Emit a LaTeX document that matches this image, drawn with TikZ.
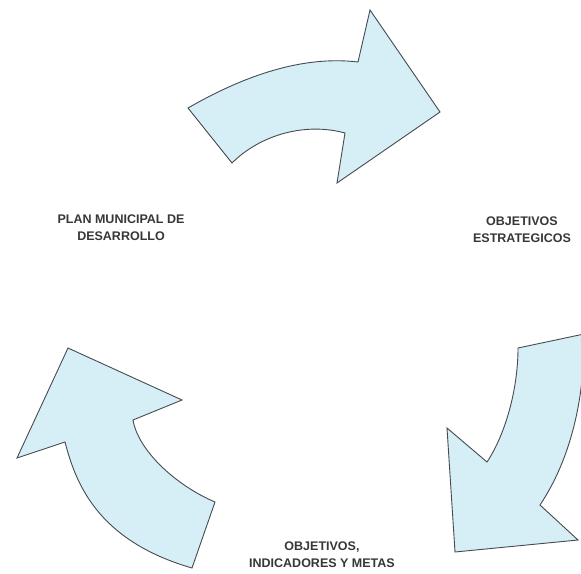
\documentclass[tikz,border=0pt]{standalone}
\usepackage{fontspec}
\setmainfont{Liberation Sans}
\definecolor{arrowfill}{RGB}{214,238,245}
\definecolor{arrowline}{RGB}{70,75,80}
\definecolor{labeltext}{RGB}{55,55,55}
\tikzset{
  cyclearrow/.style={fill=arrowfill, draw=arrowline, line width=0.9pt, line join=miter},
  steplabel/.style={align=center, text=labeltext, font=\bfseries\fontsize{12.5}{17}\selectfont, inner sep=0pt}
}
\begin{document}
\begin{tikzpicture}[x=1pt,y=-1pt]
\useasboundingbox (0,0) rectangle (581,573);
\clip (0,0) rectangle (581,573);
% top arrow
\draw[cyclearrow] (188,108) .. controls (240,78) and (300,55) .. (358,62)
  -- (370,10) -- (440,112) -- (337,183) -- (345,133)
  .. controls (305,122) and (260,135) .. (232,163) -- cycle;
% right arrow
\draw[cyclearrow] (518,348) -- (584,334)
  .. controls (585,400) and (570,460) .. (540,505)
  -- (578,540) -- (455,552) -- (447,428) -- (487,462)
  .. controls (505,435) and (518,390) .. (518,348) -- cycle;
% left arrow
\draw[cyclearrow] (192,568) -- (215,502)
  .. controls (175,485) and (138,450) .. (133,420)
  -- (182,400) -- (68,348) -- (17,458) -- (65,442)
  .. controls (75,480) and (95,540) .. (192,568) -- cycle;
% labels
\node[steplabel] (pmd) at (121,228) {PLAN MUNICIPAL DE\\DESARROLLO};
\node[steplabel] (oe) at (522,230) {OBJETIVOS\\ESTRATEGICOS};
\node[steplabel] (oim) at (322,555) {OBJETIVOS,\\INDICADORES Y METAS};
\end{tikzpicture}
\end{document}
